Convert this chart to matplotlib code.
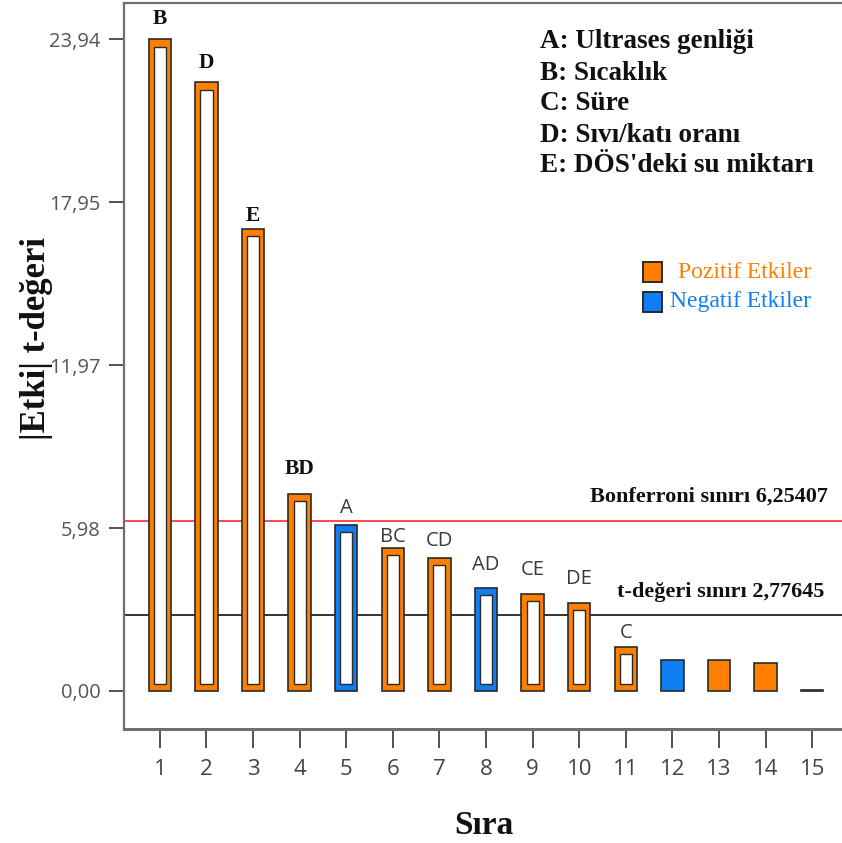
import matplotlib
matplotlib.use("Agg")
import matplotlib.pyplot as plt
from matplotlib.patches import Rectangle

# chart data
ranks = list(range(1, 16))
t_values = [23.94, 22.36, 16.97, 7.23, 6.10, 5.25, 4.88, 3.78, 3.56, 3.23,
            1.62, 1.14, 1.14, 1.03, 0.05]
effect_sign = ["+", "+", "+", "+", "-", "+", "+", "-", "+", "+",
               "+", "-", "+", "+", "0"]
term_labels = ["B", "D", "E", "BD", "A", "BC", "CD", "AD", "CE", "DE",
               "C", "", "", "", ""]
main_terms = ["B", "D", "E", "BD"]
hollow = [True] * 11 + [False] * 4
yticks = [0.0, 5.98, 11.97, 17.95, 23.94]
ytick_labels = ["0,00", "5,98", "11,97", "17,95", "23,94"]
bonferroni = 6.25407
t_limit = 2.77645
factor_legend = ["A: Ultrases genliği", "B: Sıcaklık", "C: Süre",
                 "D: Sıvı/katı oranı", "E: DÖS'deki su miktarı"]
sign_legend = ["Pozitif Etkiler", "Negatif Etkiler"]

ORANGE = "#FF8000"
BLUE = "#0F7EF2"
EDGE = "#2a2a2a"
SERIF = "Liberation Serif"
SANS = "Open Sans"

fig = plt.figure(figsize=(8.42, 8.43), dpi=100)
ax = fig.add_axes([124 / 842, 114 / 843, 1 - 124 / 842, 726 / 843])

colors = [ORANGE if s == "+" else BLUE if s == "-" else EDGE for s in effect_sign]
width = 0.48
ax.bar(ranks, t_values, width=width, color=colors, edgecolor=EDGE,
       linewidth=1.2, zorder=3)

# white inner core of the hollow bars
inset_y = 0.27
inset_x = 0.11
for r, h, hol in zip(ranks, t_values, hollow):
    if hol:
        ax.bar(r, h - 2 * inset_y, bottom=inset_y, width=width - 2 * inset_x,
               color="white", edgecolor=EDGE, linewidth=1.0, zorder=4)

ax.axhline(bonferroni, color="#FF3B3B", lw=1.3, zorder=2)
ax.axhline(t_limit, color="#111111", lw=1.2, zorder=2)

label_offsets = [7, 6.5, 2, 11, 5, 0.5, 5, 9, 10, 10, 2.5, 0, 0, 0, 0]
for r, h, lab, off in zip(ranks, t_values, term_labels, label_offsets):
    if not lab:
        continue
    if lab in main_terms:
        ax.annotate(lab, (r, h), xytext=(0, off), textcoords="offset points",
                    ha="center", va="bottom", fontsize=15.5, fontweight="bold",
                    family=SERIF, color="#111111")
    else:
        ax.annotate(lab, (r, h), xytext=(0, off), textcoords="offset points",
                    ha="center", va="bottom", fontsize=14.5, family=SANS,
                    color="#3a3a3a")

ax.text(0.98, bonferroni + 0.5, "Bonferroni sınırı 6,25407", ha="right",
        va="bottom", fontsize=16, fontweight="bold", family=SERIF,
        transform=ax.get_yaxis_transform(), color="#111111")
ax.text(0.976, t_limit + 0.5, "t-değeri sınırı 2,77645", ha="right",
        va="bottom", fontsize=16, fontweight="bold", family=SERIF,
        transform=ax.get_yaxis_transform(), color="#111111")

for i, line in enumerate(factor_legend):
    fig.text(540 / 842, 1 - (42 + 31 * i) / 843, line, ha="left", va="center",
             fontsize=19.5, fontweight="bold", family=SERIF, color="#111111")

# sign legend: small squares with coloured text
for i, (name, c) in enumerate(zip(sign_legend, [ORANGE, BLUE])):
    yc = 272 + 30 * i
    fig.add_artist(Rectangle((643 / 842, 1 - (yc + 10) / 843), 19 / 842, 20 / 843,
                             transform=fig.transFigure, facecolor=c,
                             edgecolor=EDGE, linewidth=1.4))
    fig.text((678 - 8 * i) / 842, 1 - yc / 843, name, ha="left", va="center",
             fontsize=17, family=SERIF, color=c)

ax.set_xlim(0.23, 15.64)
ax.set_ylim(-1.40, 25.27)
ax.set_xticks(ranks)
ax.set_xticklabels([str(r) for r in ranks], family=SANS, fontsize=16,
                   color="#444444")
ax.set_yticks(yticks)
ax.set_yticklabels(ytick_labels, family=SANS, fontsize=14.5, color="#555555")
ax.tick_params(axis="x", length=13.5, width=1.2, color="#333333", pad=8)
ax.tick_params(axis="y", length=11, width=1.2, color="#333333", pad=6)

for side in ["left", "bottom", "top"]:
    ax.spines[side].set_color("#6e6e6e")
    ax.spines[side].set_linewidth(1.6)
ax.spines["bottom"].set_linewidth(2.2)
ax.spines["right"].set_visible(False)

fig.text(37 / 842, 1 - 338 / 843, "|Etki| t-değeri", rotation=90, ha="center",
         va="center", fontsize=25, fontweight="bold", family=SERIF,
         color="#111111")
fig.text(484 / 842, 1 - 826 / 843, "Sıra", ha="center", va="center",
         fontsize=24, fontweight="bold", family=SERIF, color="#111111")

fig.savefig("out.png", dpi=100)
